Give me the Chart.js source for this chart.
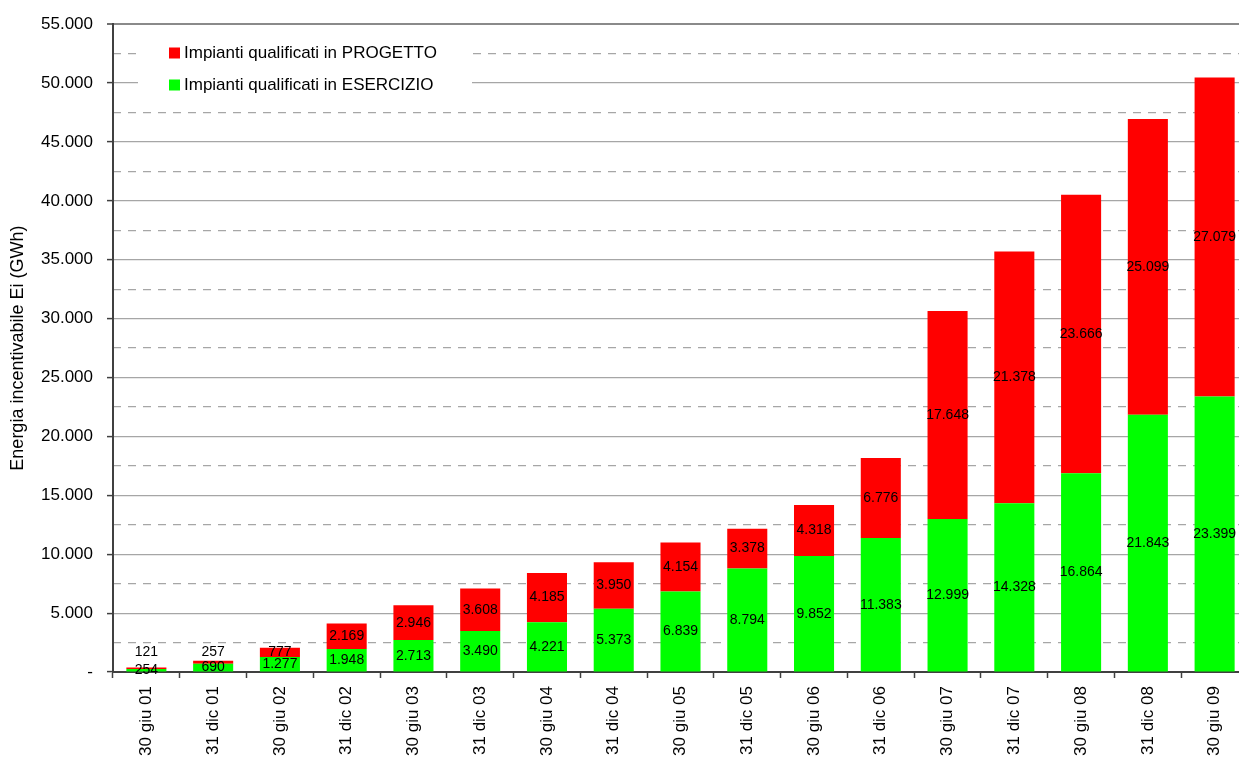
<!DOCTYPE html>
<html>
<head>
<meta charset="utf-8">
<script src="https://cdn.jsdelivr.net/npm/chart.js@4.4.0/dist/chart.umd.min.js"></script>
<style>
html,body{margin:0;padding:0;background:#fff;overflow:hidden}
#wrap{position:relative;width:1270px;height:758px}
</style>
</head>
<body>
<div id="wrap"><canvas id="c"></canvas></div>
<script>
/* ===== Data ===== */
const categories=['30 giu 01','31 dic 01','30 giu 02','31 dic 02','30 giu 03','31 dic 03','30 giu 04','31 dic 04','30 giu 05','31 dic 05','30 giu 06','31 dic 06','30 giu 07','31 dic 07','30 giu 08','31 dic 08','30 giu 09'];
const esercizio=[254,690,1277,1948,2713,3490,4221,5373,6839,8794,9852,11383,12999,14328,16864,21843,23399];
const progetto=[121,257,777,2169,2946,3608,4185,3950,4154,3378,4318,6776,17648,21378,23666,25099,27079];
const seriesNames=['Impianti qualificati in ESERCIZIO','Impianti qualificati in PROGETTO'];
const seriesColors=['#00ff00','#ff0000'];
const yTitle='Energia incentivabile Ei (GWh)';

/* ===== Helpers ===== */
const FONT='"Liberation Sans", Arial, sans-serif';
function fmt(v){ return v===0?'-':String(v).replace(/\B(?=(\d{3})+(?!\d))/g,'.'); }

/* ===== Plugins ===== */
const segLabels={id:'segLabels',afterDatasetsDraw(chart){
  const ctx=chart.ctx, zeroY=chart.scales.y.getPixelForValue(0);
  ctx.save(); ctx.font='14px '+FONT; ctx.fillStyle='#000'; ctx.textAlign='center'; ctx.textBaseline='middle';
  chart.data.datasets.forEach((ds,di)=>{
    chart.getDatasetMeta(di).data.forEach((bar,i)=>{
      let y=(bar.y+bar.base)/2;
      if(di===1) y=Math.min(y, zeroY-20);   // tiny red segments: label sits above
      ctx.fillText(fmt(ds.data[i]), bar.x, y);
    });
  });
  ctx.restore();
}};

const boxLegend={id:'boxLegend',afterDraw(chart){
  const ctx=chart.ctx;
  ctx.save();
  ctx.fillStyle='#fff'; ctx.fillRect(138,38,334,60);
  ctx.font='17px '+FONT; ctx.textBaseline='middle'; ctx.textAlign='left';
  const items=chart.data.datasets.slice().reverse();
  items.forEach((ds,k)=>{
    const cy=53+k*32;
    ctx.fillStyle=ds.backgroundColor; ctx.fillRect(169,cy-5.5,11,11);
    ctx.fillStyle='#000'; ctx.fillText(ds.label,184,cy);
  });
  ctx.restore();
}};

/* ===== Chart ===== */
new Chart(document.getElementById('c'),{
  type:'bar',
  data:{labels:categories,datasets:[
    {label:seriesNames[0],data:esercizio,backgroundColor:seriesColors[0]},
    {label:seriesNames[1],data:progetto,backgroundColor:seriesColors[1]}
  ]},
  options:{
    responsive:true,maintainAspectRatio:false,animation:false,
    layout:{padding:{top:21,right:22,left:0,bottom:0}},
    datasets:{bar:{categoryPercentage:1,barPercentage:0.6,borderWidth:0}},
    plugins:{legend:{display:false},tooltip:{enabled:false}},
    scales:{
      x:{stacked:true,
        grid:{offset:true,drawOnChartArea:false,tickLength:6,tickColor:'#404040',tickWidth:1.5},
        border:{color:'#404040',width:2},
        ticks:{font:{family:FONT,size:17},color:'#000',maxRotation:90,minRotation:90,autoSkip:false,padding:8},
        afterFit(s){ s.height=86; }
      },
      y:{stacked:true,min:0,max:55000,position:'left',
        ticks:{stepSize:5000,callback:v=>fmt(v),font:{family:FONT,size:17},color:'#000',padding:14},
        grid:{color:c=>c.tick&&c.tick.value===55000?'#8a8a8a':'#a6a6a6',lineWidth:c=>c.tick&&c.tick.value===55000?2:1.2,tickLength:6,tickColor:'#404040',tickWidth:1.5},
        border:{color:'#404040',width:2},
        title:{display:true,text:yTitle,font:{family:FONT,size:18},color:'#000',padding:{top:7,bottom:0}},
        afterFit(s){ s.width=113; }
      },
      y2:{position:'left',min:0,max:55000,
        ticks:{display:false,stepSize:2500},
        grid:{color:c=>c.tick&&c.tick.value%5000!==0?'#a6a6a6':'rgba(0,0,0,0)',lineWidth:1.2,drawTicks:false},
        border:{display:false,dash:[8,7]},
        afterFit(s){ s.width=0; }
      }
    }
  },
  plugins:[segLabels,boxLegend]
});
</script>
</body>
</html>
